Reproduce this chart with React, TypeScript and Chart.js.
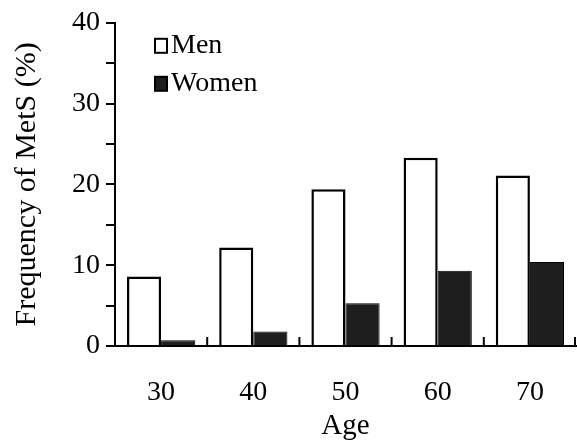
import React, { useEffect, useRef } from "react";
import { Chart, registerables } from "chart.js";

Chart.register(...registerables);

const categories = ["30", "40", "50", "60", "70"];
const menValues = [8.6, 12.2, 19.4, 23.3, 21.1];
const womenValues = [0.7, 1.8, 5.3, 9.3, 10.4];
const yTickValues = [0, 10, 20, 30, 40];
const seriesNames = ["Men", "Women"];

const FONT = "'Liberation Serif', 'Times New Roman', serif";

const insideLegend = {
  id: "insideLegend",
  afterDraw(chart: any) {
    const { ctx, chartArea } = chart;
    ctx.save();
    ctx.font = `28px ${FONT}`;
    ctx.textBaseline = "alphabetic";
    ctx.textAlign = "left";
    chart.data.datasets.forEach((ds: any, i: number) => {
      const bx = chartArea.left + 40;
      const by = chartArea.top + 16 + i * 38;
      ctx.fillStyle = ds.backgroundColor;
      ctx.fillRect(bx, by, 12, 14);
      ctx.strokeStyle = "#000";
      ctx.lineWidth = 2;
      ctx.strokeRect(bx, by, 12, 14);
      ctx.fillStyle = "#000";
      ctx.fillText(ds.label, bx + 16, by + 14);
    });
    ctx.restore();
  },
};

const xBoundaryTicks = {
  id: "xBoundaryTicks",
  afterDraw(chart: any) {
    const { ctx, chartArea } = chart;
    const xs = chart.scales.x;
    ctx.save();
    ctx.strokeStyle = "#000";
    ctx.lineWidth = 2;
    for (let i = 1; i <= categories.length; i++) {
      const px = Math.min(xs.getPixelForValue(i - 0.5), chartArea.right - 1);
      ctx.beginPath();
      ctx.moveTo(px, chartArea.bottom);
      ctx.lineTo(px, chartArea.bottom - 9);
      ctx.stroke();
    }
    ctx.restore();
  },
};

export default function App() {
  const ref = useRef<HTMLCanvasElement | null>(null);
  useEffect(() => {
    if (!ref.current) return;
    const chart = new Chart(ref.current, {
      type: "bar",
      data: {
        labels: categories,
        datasets: [
          {
            label: seriesNames[0],
            data: menValues,
            backgroundColor: "#ffffff",
            borderColor: "#000000",
            borderWidth: 2.5,
            categoryPercentage: 0.74,
            barPercentage: 1.0,
          },
          {
            label: seriesNames[1],
            data: womenValues,
            backgroundColor: "#1e1e1e",
            borderColor: "#000000",
            borderWidth: 1,
            categoryPercentage: 0.74,
            barPercentage: 1.0,
          },
        ],
      },
      options: {
        responsive: false,
        animation: false,
        layout: { padding: { top: 22, right: 1, left: 0, bottom: 0 } },
        plugins: { legend: { display: false }, tooltip: { enabled: false } },
        scales: {
          x: {
            grid: { display: false },
            border: { display: true, color: "#000", width: 2 },
            ticks: { color: "#000", font: { family: FONT, size: 28 }, padding: 22 },
            title: {
              display: true,
              text: "Age",
              color: "#000",
              font: { family: FONT, size: 29 },
              padding: { top: 0, bottom: 1 },
            },
            afterFit: (s: any) => {
              s.height = 99;
            },
          },
          y: {
            min: 0,
            max: 40,
            grid: {
              display: true,
              drawOnChartArea: false,
              drawTicks: true,
              tickLength: 9,
              color: "#000",
              lineWidth: 2,
            },
            border: { display: true, color: "#000", width: 2 },
            ticks: {
              stepSize: 5,
              color: "#000",
              font: { family: FONT, size: 28 },
              padding: 6,
              callback: (v: any) => (yTickValues.includes(Number(v)) ? String(v) : ""),
            },
            title: {
              display: true,
              text: "Frequency of MetS (%)",
              color: "#000",
              font: { family: FONT, size: 30 },
              padding: { top: 9, bottom: 0 },
            },
            afterFit: (s: any) => {
              s.width = 115;
            },
          },
        },
      },
      plugins: [insideLegend, xBoundaryTicks],
    });
    return () => chart.destroy();
  }, []);
  return (
    <div style={{ position: "fixed", left: 0, top: 0, width: 577, height: 445, background: "#fff" }}>
      <canvas ref={ref} width={577} height={445} />
    </div>
  );
}
